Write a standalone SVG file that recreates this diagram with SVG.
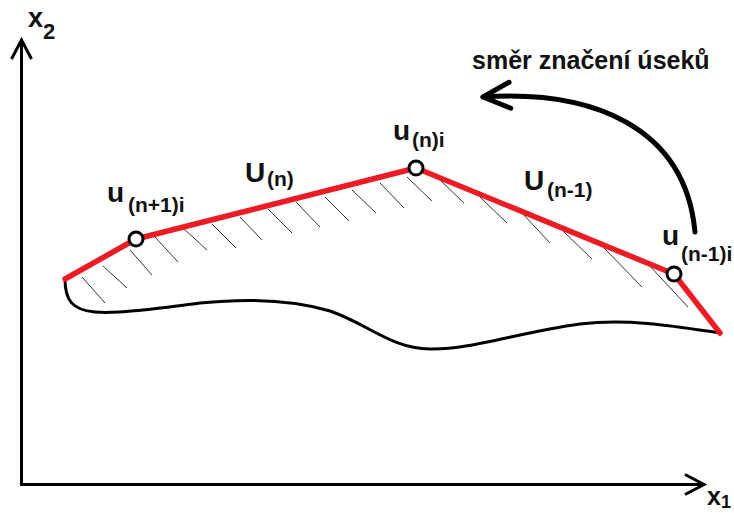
<svg xmlns="http://www.w3.org/2000/svg" width="734" height="513" viewBox="0 0 734 513">
  <style>
    .lbl { font-family: "Liberation Sans", Arial, sans-serif; font-weight: bold; fill: #111; }
    .main { font-size: 28px; }
    .sub { font-size: 21px; }
    .axis { stroke: #000; stroke-width: 3; fill: none; }
    .bound { stroke: #000; stroke-width: 3; fill: none; stroke-linecap: round; }
    .seg { stroke: #ED1C24; stroke-width: 5.5; fill: none; stroke-linecap: round; stroke-linejoin: round; }
    .hatch { stroke: #333; stroke-width: 1; fill: none; }
    .pt { fill: #fff; stroke: #000; stroke-width: 3; }
  </style>
  <defs>
    <marker id="axisHead" markerUnits="userSpaceOnUse" viewBox="-24 -14 28 28" markerWidth="28" markerHeight="28" refX="0" refY="0" orient="auto" overflow="visible">
      <path d="M-19,-10 L0,0 L-19,10" fill="none" stroke="#000" stroke-width="3"/>
    </marker>
    <marker id="bigHead" markerUnits="userSpaceOnUse" viewBox="-32 -18 36 36" markerWidth="36" markerHeight="36" refX="0" refY="0" orient="auto" overflow="visible">
      <path d="M-27,-13 L0,0 L-27,13" fill="none" stroke="#000" stroke-width="5" stroke-linecap="round" stroke-linejoin="round"/>
    </marker>
  </defs>
  <rect width="734" height="513" fill="#fff"/>

  <g id="axes">
    <line class="axis" x1="21.5" y1="486" x2="21.5" y2="40" marker-end="url(#axisHead)"/>
    <line class="axis" x1="20" y1="484.5" x2="704" y2="484.5" marker-end="url(#axisHead)"/>
    <text class="lbl" x="28" y="27" font-size="27">x</text>
    <text class="lbl" x="43" y="39" font-size="22">2</text>
    <text class="lbl" x="707" y="505" font-size="25">x</text>
    <text class="lbl" x="721" y="508" font-size="18">1</text>
  </g>

  <g id="hatching">
    <path class="hatch" d="M82,277 L105,303 M103,266 L127,288 M130,250 L152,275 M155,237 L178,262 M183,228 L207,250 M212,224 L236,248 M240,217 L262,240 M268,209 L292,233 M296,202 L320,227 M325,197 L349,221 M352,190 L376,213 M380,183 L404,208 M407,177 L432,201 M440,180 L464,203 M480,197 L507,223 M522,213 L550,243 M562,230 L592,259 M603,247 L642,287 M647,263 L688,307"/>
  </g>

  <g id="boundary">
    <path class="bound" d="M65,279 C65,300 72,310 95,312 C120,314 160,308 200,303 C240,299 290,299 330,311 C370,325 390,348 430,349 C470,350 520,332 580,324 C630,318 680,327 720,333"/>
  </g>

  <g id="connectors">
    <line id="seg-left" class="seg" x1="65" y1="279" x2="136" y2="239"/>
    <line id="seg-Un" class="seg" x1="136" y1="239" x2="416" y2="168"/>
    <line id="seg-Un-1" class="seg" x1="416" y1="168" x2="674" y2="274"/>
    <line id="seg-right" class="seg" x1="674" y1="274" x2="720" y2="333"/>
    <path id="direction-arrow" d="M695,232 C685,125 590,90 483,97" fill="none" stroke="#000" stroke-width="5" stroke-linecap="round" marker-end="url(#bigHead)"/>
  </g>

  <g id="node-u-n1-i">
    <circle class="pt" cx="136" cy="239" r="7"/>
    <text class="lbl main" x="107" y="202">u</text>
    <text class="lbl sub" x="128" y="212">(n+1)i</text>
  </g>
  <g id="node-u-n-i">
    <circle class="pt" cx="416" cy="168" r="7"/>
    <text class="lbl main" x="393" y="140">u</text>
    <text class="lbl sub" x="412" y="147">(n)i</text>
  </g>
  <g id="node-u-nm1-i">
    <circle class="pt" cx="674" cy="274" r="7"/>
    <text class="lbl main" x="662" y="245">u</text>
    <text class="lbl sub" x="681" y="261">(n-1)i</text>
  </g>

  <g id="label-Un">
    <text class="lbl main" x="245" y="182">U</text>
    <text class="lbl sub" x="267" y="186">(n)</text>
  </g>
  <g id="label-Un-1">
    <text class="lbl main" x="524" y="190">U</text>
    <text class="lbl sub" x="547" y="197">(n-1)</text>
  </g>
  <g id="label-direction">
    <text class="lbl" x="472" y="69" font-size="25">směr značení úseků</text>
  </g>
</svg>
